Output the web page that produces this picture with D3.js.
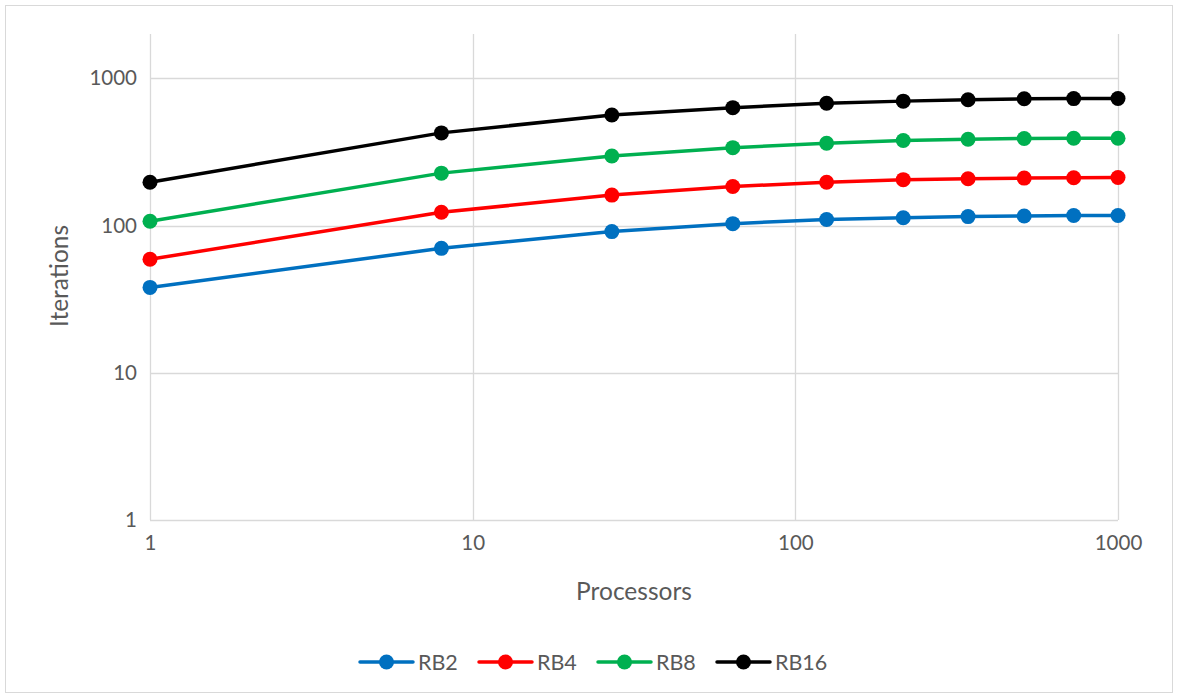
<!DOCTYPE html>
<html>
<head>
<meta charset="utf-8">
<script src="https://cdn.jsdelivr.net/npm/d3@7"></script>
<style>
  html, body { margin: 0; padding: 0; background: #fff; }
  svg { display: block; }
  text { font-family: Lato, "Open Sans", sans-serif; fill: #595959; }
</style>
</head>
<body>
<svg id="chart" width="1178" height="698"></svg>
<script>
// Processor counts (cubes of 1..10)
const processors = [1, 8, 27, 64, 125, 216, 343, 512, 729, 1000];

// Iteration counts for each red-black ordering
const rb2  = [38, 70, 91, 103, 110, 113, 115, 116, 117, 117];
const rb4  = [59, 123, 161, 184, 197, 205, 208, 210, 211, 212];
const rb8  = [107, 227, 297, 338, 362, 378, 386, 390, 392, 392];
const rb16 = [197, 426, 564, 632, 677, 700, 716, 726, 728, 730];

const seriesNames  = ["RB2", "RB4", "RB8", "RB16"];
const seriesColors = ["#0070c0", "#ff0000", "#00b050", "#000000"];
const seriesValues = [rb2, rb4, rb8, rb16];

const xTicks = [1, 10, 100, 1000];
const yTicks = [1, 10, 100, 1000];

const svg = d3.select("#chart");
const W = 1178, H = 698;
const plot = { left: 150, right: 1118, top: 34, bottom: 520 };

// Outer chart border
svg.append("rect")
  .attr("x", 5.5).attr("y", 5.5)
  .attr("width", W - 11).attr("height", H - 11)
  .attr("fill", "#fff").attr("stroke", "#d9d9d9").attr("stroke-width", 1);

const x = d3.scaleLog().domain([1, 1000]).range([plot.left, plot.right]);
const y = d3.scaleLog().domain([1, 2000]).range([plot.bottom, plot.top]);

// Gridlines
const grid = svg.append("g").attr("stroke", "#d9d9d9").attr("stroke-width", 1.3);
grid.selectAll("line.v").data(xTicks).join("line")
  .attr("x1", d => Math.round(x(d)) + 0.5).attr("x2", d => Math.round(x(d)) + 0.5)
  .attr("y1", plot.top).attr("y2", plot.bottom);
grid.selectAll("line.h").data(yTicks).join("line")
  .attr("x1", plot.left).attr("x2", plot.right)
  .attr("y1", d => Math.round(y(d)) + 0.5).attr("y2", d => Math.round(y(d)) + 0.5);

// Axes (labels only; lines come from the grid)
const xAxis = svg.append("g")
  .attr("transform", `translate(0,${plot.bottom})`)
  .call(d3.axisBottom(x).tickValues(xTicks).tickFormat(d3.format("d")).tickSize(0).tickPadding(15));
xAxis.select(".domain").remove();
xAxis.selectAll("text").style("font-size", "20.5px").attr("fill", "#595959")
  .style("font-family", "Lato, 'Open Sans', sans-serif");

const yAxis = svg.append("g")
  .attr("transform", `translate(${plot.left},0)`)
  .call(d3.axisLeft(y).tickValues(yTicks).tickFormat(d3.format("d")).tickSize(0).tickPadding(13));
yAxis.select(".domain").remove();
yAxis.selectAll("text").style("font-size", "20.5px").attr("fill", "#595959")
  .style("font-family", "Lato, 'Open Sans', sans-serif");

// Axis titles
svg.append("text")
  .attr("x", (plot.left + plot.right) / 2).attr("y", 600)
  .attr("text-anchor", "middle").style("font-size", "24.5px")
  .text("Processors");
svg.append("text")
  .attr("transform", `translate(68,276) rotate(-90)`)
  .attr("text-anchor", "middle").style("font-size", "24.5px")
  .text("Iterations");

// Series lines and markers
const line = d3.line()
  .x(d => x(d[0])).y(d => y(d[1]));

seriesValues.forEach((vals, i) => {
  const pts = processors.map((p, j) => [p, vals[j]]);
  const g = svg.append("g");
  g.append("path").datum(pts)
    .attr("d", line).attr("fill", "none")
    .attr("stroke", seriesColors[i]).attr("stroke-width", 3.5)
    .attr("stroke-linejoin", "round").attr("stroke-linecap", "round");
  g.selectAll("circle").data(pts).join("circle")
    .attr("cx", d => x(d[0])).attr("cy", d => y(d[1]))
    .attr("r", 7.5).attr("fill", seriesColors[i]);
});

// Legend
const legendX = [360, 479, 598, 717];
const legendY = 662;
const legend = svg.append("g");
seriesNames.forEach((name, i) => {
  const lx = legendX[i];
  legend.append("line")
    .attr("x1", lx).attr("x2", lx + 53).attr("y1", legendY).attr("y2", legendY)
    .attr("stroke", seriesColors[i]).attr("stroke-width", 3.5).attr("stroke-linecap", "round");
  legend.append("circle")
    .attr("cx", lx + 26.5).attr("cy", legendY).attr("r", 7.5).attr("fill", seriesColors[i]);
  legend.append("text")
    .attr("x", lx + 58).attr("y", legendY + 7.5)
    .style("font-size", "21.5px").text(name);
});
</script>
</body>
</html>
